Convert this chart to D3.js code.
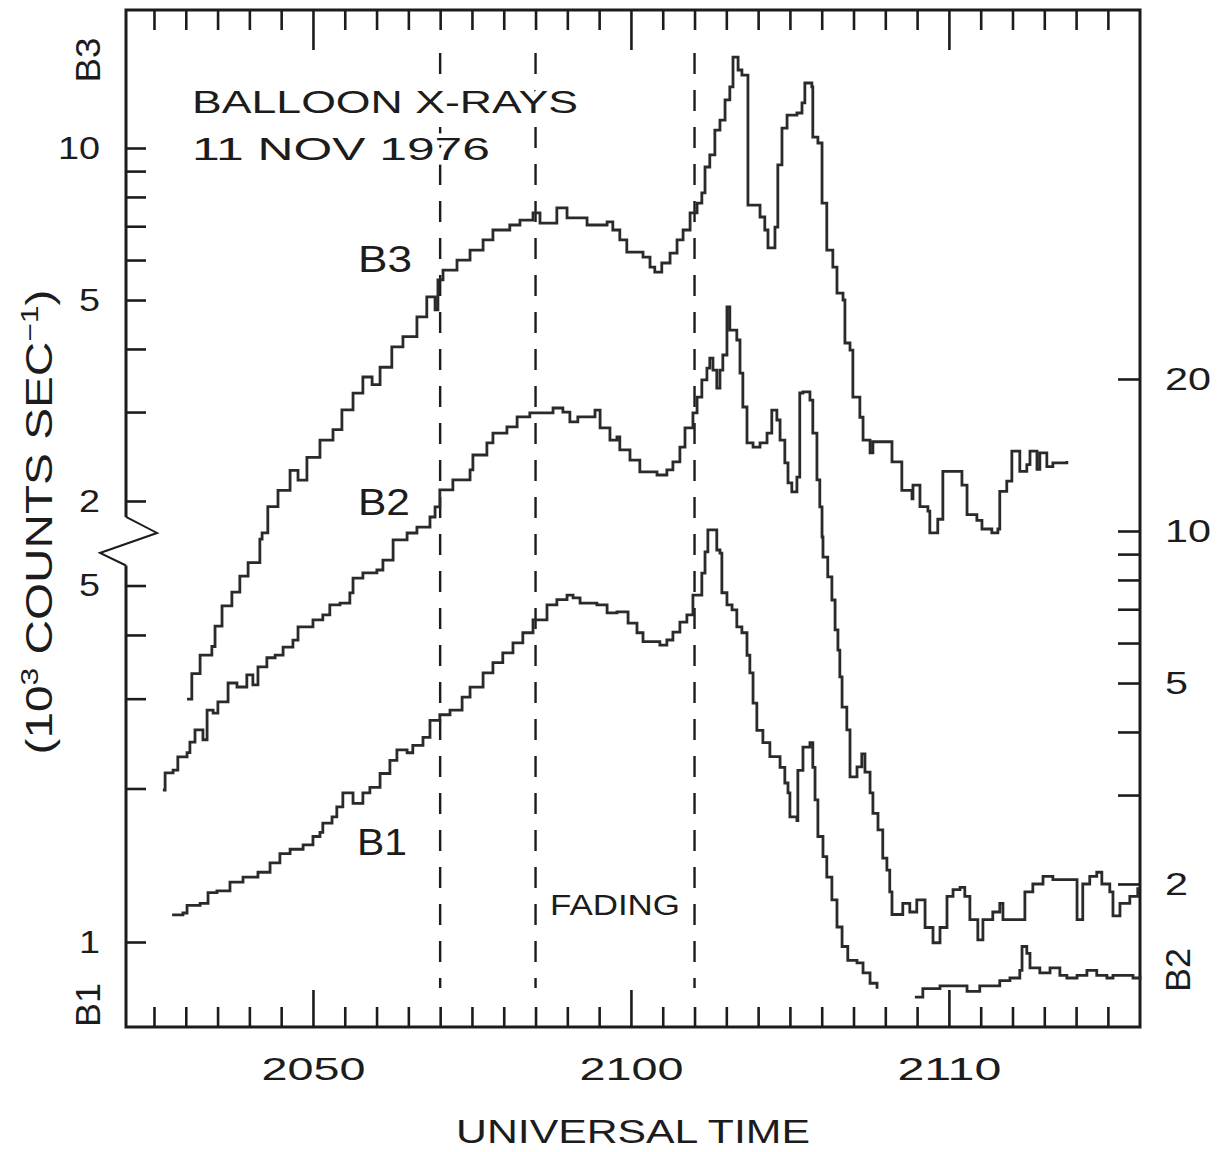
<!DOCTYPE html>
<html>
<head>
<meta charset="utf-8">
<script src="https://cdn.jsdelivr.net/npm/d3@7"></script>
<style>
  body { margin: 0; background: #fff; }
  svg { display: block; }
  text { font-family: "Liberation Sans", Arial, sans-serif; fill: #1c1c1c; }
</style>
</head>
<body>
<svg id="chart" width="1228" height="1152"></svg>
<script>
// time is minutes after 20:00 UT, counts are 10^3 counts/sec
var b3Counts = [
  [46.04, 0.81], [46.19, 0.91], [46.45, 0.99], [46.82, 1.03], [46.92, 1.13], [47.14, 1.24],
  [47.45, 1.32], [47.70, 1.42], [47.96, 1.51], [48.33, 1.68], [48.40, 1.73], [48.58, 1.95],
  [48.90, 2.10], [49.28, 2.30], [49.53, 2.20], [49.81, 2.44], [50.22, 2.64], [50.63, 2.77],
  [50.91, 3.03], [51.26, 3.27], [51.57, 3.52], [51.86, 3.40], [52.11, 3.68], [52.48, 4.04],
  [52.83, 4.23], [53.27, 4.63], [53.58, 5.07], [53.84, 4.78], [53.93, 5.48], [54.09, 5.73],
  [54.53, 6.00], [54.94, 6.28], [55.35, 6.58], [55.66, 6.88], [56.19, 7.04], [56.51, 7.20],
  [56.92, 7.44], [57.14, 7.10], [57.67, 7.61], [57.99, 7.27], [58.62, 7.04], [59.25, 7.14],
  [59.43, 6.88], [59.65, 6.58], [59.87, 6.22], [60.38, 6.08], [60.60, 5.81], [60.75, 5.68],
  [60.97, 5.92], [61.23, 6.19], [61.45, 6.58], [61.64, 6.88], [61.86, 7.44], [62.08, 7.78],
  [62.23, 8.15], [62.33, 9.17], [62.48, 9.69], [62.64, 10.85], [62.80, 11.36], [62.96, 12.45],
  [63.11, 13.21], [63.21, 15.14], [63.37, 14.27], [63.49, 13.94], [63.68, 7.71], [64.06, 7.30],
  [64.21, 6.88], [64.31, 6.34], [64.53, 6.97], [64.62, 9.26], [64.75, 10.95], [64.91, 11.62],
  [65.22, 11.73], [65.38, 12.28], [65.47, 13.45], [65.69, 13.21], [65.72, 10.51], [65.88, 10.23],
  [66.01, 7.78], [66.16, 6.28], [66.35, 5.81], [66.48, 5.16], [66.67, 5.00], [66.73, 4.11],
  [66.89, 3.98], [66.98, 3.21], [67.20, 2.93], [67.30, 2.64], [67.52, 2.49], [67.61, 2.62],
  [68.21, 2.39], [68.52, 2.10], [68.84, 2.02], [68.87, 2.15], [69.09, 1.95], [69.34, 1.91],
  [69.40, 1.73], [69.65, 1.84], [69.81, 2.29], [70.41, 2.15], [70.57, 1.88], [70.88, 1.83],
  [71.04, 1.76], [71.35, 1.73], [71.54, 1.76], [71.60, 2.09], [71.82, 2.19], [71.98, 2.51],
  [72.23, 2.29], [72.45, 2.36], [72.55, 2.51], [72.77, 2.31], [72.86, 2.49], [73.08, 2.34],
  [73.27, 2.38], [73.71, 2.40]
];

var b2Counts = [
  [45.28, 3.07], [45.35, 3.32], [45.60, 3.36], [45.75, 3.57], [46.04, 3.64], [46.13, 3.82],
  [46.29, 4.04], [46.54, 3.86], [46.67, 4.42], [46.86, 4.36], [47.01, 4.59], [47.33, 5.00],
  [47.61, 4.91], [47.92, 5.19], [48.11, 4.96], [48.27, 5.38], [48.55, 5.61], [48.81, 5.68],
  [49.06, 5.89], [49.37, 6.08], [49.53, 6.46], [50.00, 6.67], [50.31, 6.82], [50.53, 7.14],
  [50.85, 7.20], [51.16, 7.54], [51.26, 8.07], [51.57, 8.26], [52.01, 8.37], [52.20, 8.76],
  [52.52, 9.60], [52.96, 9.91], [53.27, 10.18], [53.68, 10.66], [53.84, 11.16], [53.99, 12.06],
  [54.40, 12.62], [54.94, 13.21], [55.03, 14.14], [55.47, 14.94], [55.66, 15.63], [56.10, 16.07],
  [56.42, 16.82], [56.82, 17.13], [57.55, 17.52], [57.86, 17.20], [58.08, 16.44], [58.33, 16.82],
  [58.87, 17.36], [59.03, 16.00], [59.34, 15.14], [59.56, 15.35], [59.65, 14.47], [59.97, 13.82],
  [60.28, 13.09], [60.82, 12.91], [61.13, 13.21], [61.32, 13.70], [61.54, 14.66], [61.70, 16.00],
  [61.95, 17.13], [62.08, 18.42], [62.23, 19.91], [62.39, 21.02], [62.48, 22.00], [62.58, 20.83],
  [62.70, 19.19], [62.80, 20.83], [62.89, 22.31], [63.02, 27.77], [63.11, 25.00], [63.33, 23.89],
  [63.43, 20.55], [63.52, 17.60], [63.65, 14.94], [63.84, 14.66], [64.06, 14.94], [64.28, 15.63],
  [64.43, 17.36], [64.59, 16.59], [64.69, 15.14], [64.84, 13.64], [64.94, 12.45], [65.06, 11.95],
  [65.22, 12.79], [65.31, 18.76], [65.41, 18.85], [65.63, 18.17], [65.72, 15.63], [65.85, 12.62],
  [65.94, 11.16], [66.01, 9.73], [66.04, 8.88], [66.19, 8.11], [66.32, 7.30], [66.42, 6.37],
  [66.51, 5.81], [66.57, 5.14], [66.64, 4.48], [66.79, 4.04], [66.89, 3.26], [67.11, 3.41],
  [67.26, 3.62], [67.36, 3.33], [67.52, 3.03], [67.61, 2.76], [67.77, 2.56], [67.92, 2.25],
  [68.05, 2.13], [68.14, 1.93], [68.21, 1.74], [68.55, 1.83], [68.77, 1.76], [68.99, 1.86],
  [69.25, 1.64], [69.50, 1.53], [69.72, 1.64], [69.94, 1.89], [70.13, 1.95], [70.35, 1.97],
  [70.50, 1.89], [70.66, 1.70], [70.91, 1.55], [71.07, 1.70], [71.38, 1.76], [71.60, 1.83],
  [71.70, 1.70], [72.39, 1.93], [72.64, 2.00], [72.96, 2.07], [73.27, 2.04], [73.90, 2.04],
  [74.03, 1.70], [74.21, 2.00], [74.43, 2.07], [74.65, 2.11], [74.81, 2.00], [75.06, 1.93],
  [75.16, 1.73], [75.38, 1.83], [75.69, 1.89], [75.94, 1.97]
];

var b1CountsEarly = [
  [45.57, 1.13], [45.91, 1.14], [46.04, 1.18], [46.45, 1.19], [46.70, 1.25], [46.98, 1.26],
  [47.39, 1.31], [47.80, 1.34], [48.27, 1.37], [48.65, 1.43], [48.96, 1.49], [49.28, 1.52],
  [49.69, 1.55], [50.00, 1.61], [50.22, 1.64], [50.31, 1.71], [50.60, 1.76], [50.75, 1.84],
  [50.94, 1.96], [51.26, 1.87], [51.57, 1.96], [51.79, 2.01], [52.11, 2.14], [52.42, 2.27],
  [52.64, 2.38], [52.96, 2.35], [53.14, 2.43], [53.46, 2.52], [53.68, 2.72], [53.99, 2.79],
  [54.31, 2.85], [54.69, 3.02], [54.94, 3.16], [55.35, 3.37], [55.66, 3.53], [55.97, 3.69],
  [56.29, 3.86], [56.60, 4.04], [56.92, 4.28], [57.36, 4.58], [57.67, 4.69], [57.99, 4.79],
  [58.18, 4.73], [58.40, 4.62], [58.93, 4.58], [59.25, 4.42], [59.56, 4.44], [59.91, 4.22],
  [60.19, 4.04], [60.38, 3.88], [60.91, 3.82], [61.13, 3.91], [61.32, 4.05], [61.54, 4.24],
  [61.76, 4.38], [61.95, 4.79], [62.23, 5.29], [62.33, 5.82], [62.42, 6.43], [62.70, 5.87],
  [62.80, 5.79], [62.86, 4.84], [63.02, 4.58], [63.18, 4.48], [63.33, 4.15], [63.49, 4.04],
  [63.65, 3.65], [63.74, 3.37], [63.84, 2.94], [63.96, 2.60], [64.15, 2.46], [64.37, 2.31],
  [64.69, 2.20], [64.84, 2.05], [64.94, 1.96], [65.00, 1.76], [65.22, 1.73], [65.25, 2.17],
  [65.41, 2.41], [65.63, 2.46], [65.72, 2.20], [65.79, 1.90], [65.88, 1.61], [66.04, 1.47],
  [66.16, 1.34], [66.32, 1.21], [66.48, 1.07], [66.64, 0.98], [66.82, 0.92], [67.11, 0.91],
  [67.30, 0.87], [67.52, 0.83], [67.74, 0.81]
];

var b1CountsLate = [
  [68.93, 0.78], [69.18, 0.81], [69.72, 0.82], [70.13, 0.82], [70.57, 0.80], [70.97, 0.82],
  [71.60, 0.84], [71.92, 0.85], [72.23, 0.88], [72.30, 0.98], [72.45, 0.95], [72.55, 0.89],
  [72.86, 0.87], [73.18, 0.89], [73.49, 0.86], [73.71, 0.85], [74.03, 0.86], [74.34, 0.88],
  [74.65, 0.86], [74.97, 0.85], [75.16, 0.86], [75.47, 0.86], [75.79, 0.85], [76.01, 0.86]
];

var minuteTicks = d3.range(45, 76);
var majorMinutes = [50, 60, 70];
var fadingMarks = [54, 57, 62];
var b3Ticks = [2, 3, 4, 5, 6, 7, 8, 9, 10];
var b3Labels = [2, 5, 10];
var b1Ticks = [1, 2, 3, 4, 5];
var b1Labels = [1, 5];
var b2Ticks = [2, 3, 4, 5, 6, 7, 8, 9, 10, 20];
var b2Labels = [2, 5, 10, 20];

var ink = "#1c1c1c";
var svg = d3.select("#chart");

// note: plain "top" would collide with window.top
var plotLeft = 126, plotRight = 1140, plotTop = 10, plotBottom = 1027;
var x = d3.scaleLinear().domain([44.12, 76.01]).range([plotLeft, plotRight]);
var yB3 = d3.scaleLog().domain([1, 10]).range([653, 148]);
var yB2 = d3.scaleLog().domain([1, 10]).range([1036, 531]);
var yB1 = d3.scaleLog().domain([1, 10]).range([942, 432]);

function utLabel(t) {
  if (majorMinutes.indexOf(t) < 0) return "";
  var f = d3.format("02");
  return f(20 + Math.floor(t / 60)) + f(t % 60);
}

function styleAxis(g) {
  g.select(".domain").remove();
  g.selectAll("line").attr("stroke", ink).attr("stroke-width", 2.6);
  g.selectAll("text").attr("fill", ink).attr("font-family", null);
}

function stretch(sel, perChar, size) {
  sel.attr("font-size", size)
    .attr("lengthAdjust", "spacingAndGlyphs")
    .each(function () {
      var s = d3.select(this).text();
      if (s.length) d3.select(this).attr("textLength", s.length * perChar);
    });
}

// bottom and top time axes
var bottomAxis = svg.append("g")
  .attr("transform", "translate(0," + plotBottom + ")")
  .call(d3.axisBottom(x).tickValues(minuteTicks).tickSizeInner(-20).tickSizeOuter(0)
    .tickPadding(30).tickFormat(utLabel));
styleAxis(bottomAxis);
bottomAxis.selectAll(".tick line").filter(function (d) { return majorMinutes.indexOf(d) >= 0; }).attr("y2", -37);
stretch(bottomAxis.selectAll(".tick text"), 26, 32);

var topAxis = svg.append("g")
  .attr("transform", "translate(0," + plotTop + ")")
  .call(d3.axisTop(x).tickValues(minuteTicks).tickSizeInner(-20).tickSizeOuter(0).tickFormat(""));
styleAxis(topAxis);
topAxis.selectAll(".tick line").filter(function (d) { return majorMinutes.indexOf(d) >= 0; }).attr("y2", 40);

// left log axes (B3 on top, B1 below the break) and right B2 axis
var b3Axis = svg.append("g")
  .attr("transform", "translate(" + plotLeft + ",0)")
  .call(d3.axisLeft(yB3).tickValues(b3Ticks).tickSizeInner(-20).tickSizeOuter(0).tickPadding(26)
    .tickFormat(function (v) { return b3Labels.indexOf(v) >= 0 ? v : ""; }));
styleAxis(b3Axis);
stretch(b3Axis.selectAll(".tick text"), 21, 32);

var b1Axis = svg.append("g")
  .attr("transform", "translate(" + plotLeft + ",0)")
  .call(d3.axisLeft(yB1).tickValues(b1Ticks).tickSizeInner(-20).tickSizeOuter(0).tickPadding(26)
    .tickFormat(function (v) { return b1Labels.indexOf(v) >= 0 ? v : ""; }));
styleAxis(b1Axis);
stretch(b1Axis.selectAll(".tick text"), 21, 32);

var b2Axis = svg.append("g")
  .attr("transform", "translate(" + plotRight + ",0)")
  .call(d3.axisRight(yB2).tickValues(b2Ticks).tickSizeInner(-22).tickSizeOuter(0).tickPadding(25)
    .tickFormat(function (v) { return b2Labels.indexOf(v) >= 0 ? v : ""; }));
styleAxis(b2Axis);
stretch(b2Axis.selectAll(".tick text"), 23, 32);

// frame, with the broken left axis
var breakTop = yB3(2) + 16, breakBottom = yB1(5) - 20;
var frame = svg.append("g").attr("fill", "none").attr("stroke", ink).attr("stroke-width", 3);
frame.append("path").attr("d", d3.line()([
  [plotLeft, breakTop], [plotLeft, plotTop], [plotRight, plotTop],
  [plotRight, plotBottom], [plotLeft, plotBottom], [plotLeft, breakBottom]
]));
frame.append("path").attr("stroke-width", 2)
  .attr("d", d3.line()([[plotLeft, breakTop], [plotLeft + 31, breakTop + 16], [plotLeft - 26, breakTop + 36], [plotLeft, breakBottom]]));

// fading interval markers
svg.append("g").selectAll("line").data(fadingMarks).join("line")
  .attr("x1", function (d) { return x(d); }).attr("x2", function (d) { return x(d); })
  .attr("y1", 53).attr("y2", 988)
  .attr("stroke", ink).attr("stroke-width", 2.4).attr("stroke-dasharray", "21,16");

// count-rate traces
function trace(scale) {
  return d3.line().x(function (d) { return x(d[0]); }).y(function (d) { return scale(d[1]); }).curve(d3.curveStepAfter);
}
var traces = svg.append("g").attr("fill", "none").attr("stroke", "#2a2a2a").attr("stroke-width", 2.8);
traces.append("path").attr("d", trace(yB3)(b3Counts));
traces.append("path").attr("d", trace(yB2)(b2Counts));
traces.append("path").attr("d", trace(yB1)(b1CountsEarly));
traces.append("path").attr("d", trace(yB1)(b1CountsLate));

// text
function label(str, px, py, size, len, opts) {
  opts = opts || {};
  var t = svg.append("text")
    .attr("font-size", size)
    .attr("textLength", len).attr("lengthAdjust", "spacingAndGlyphs")
    .attr("text-anchor", opts.anchor || "start")
    .text(str);
  if (opts.rotate) t.attr("transform", "translate(" + px + "," + py + ") rotate(-90)");
  else t.attr("x", px).attr("y", py);
  if (opts.halo) t.attr("stroke", "#fff").attr("stroke-width", 9).attr("paint-order", "stroke");
  return t;
}

label("BALLOON X-RAYS", 192, 113, 32, 386, { halo: true });
label("11 NOV 1976", 192, 160, 32, 298, { halo: true });
label("B3", 358, 272, 37, 54);
label("B2", 358, 515, 37, 52);
label("B1", 357, 855, 37, 50);
label("FADING", 550, 915, 30, 130);
label("UNIVERSAL TIME", 633, 1143, 34, 354, { anchor: "middle" });
label("B3", 100, 60, 35, 45, { anchor: "middle", rotate: true });
label("B1", 100, 1005, 35, 44, { anchor: "middle", rotate: true });
label("B2", 1190, 970, 35, 44, { anchor: "middle", rotate: true });

var yTitle = svg.append("text")
  .attr("transform", "translate(52,522) rotate(-90)")
  .attr("text-anchor", "middle").attr("font-size", 36)
  .attr("textLength", 465).attr("lengthAdjust", "spacingAndGlyphs");
yTitle.append("tspan").text("(10");
yTitle.append("tspan").attr("font-size", 24).attr("dy", -14).text("3");
yTitle.append("tspan").attr("dy", 14).text(" COUNTS SEC");
yTitle.append("tspan").attr("font-size", 24).attr("dy", -14).text("\u22121");
yTitle.append("tspan").attr("dy", 14).text(")");
</script>
</body>
</html>
